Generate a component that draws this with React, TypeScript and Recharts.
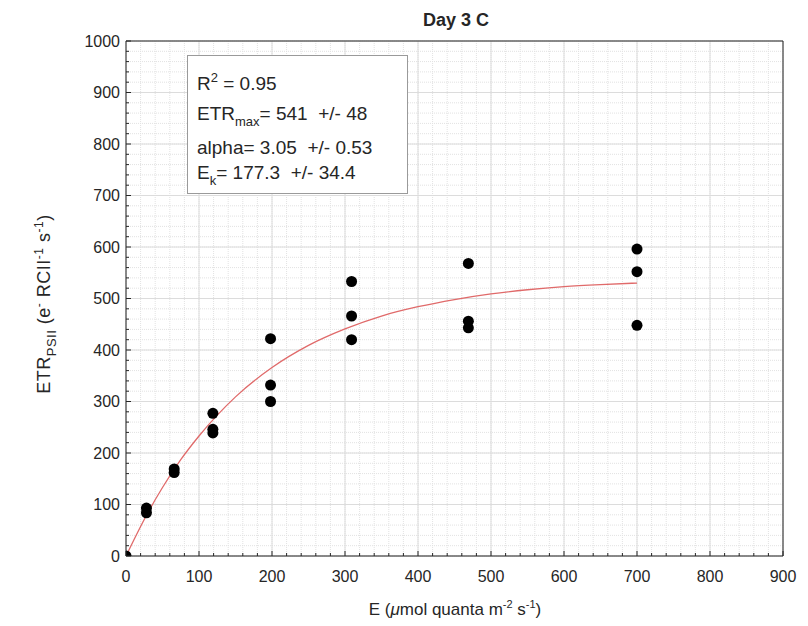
import { CartesianGrid, ComposedChart, Line, ReferenceLine, Scatter, XAxis, YAxis } from 'recharts';

// measured points: light level E and ETR
const lightE = [0, 28, 28, 66, 66, 119, 119, 119, 198, 198, 198, 309, 309, 309, 469, 469, 469, 700, 700, 700];
const etr = [0, 93, 84, 169, 162, 277, 246, 239, 422, 332, 300, 533, 466, 420, 568, 456, 443, 596, 552, 448];

// fitted curve
const fitE = [0, 25, 50, 75, 100, 150, 200, 250, 300, 350, 400, 450, 500, 550, 600, 650, 700];
const fitETR = [0, 71, 133, 187, 233, 309, 366, 409, 441, 466, 484, 498, 509, 517, 523, 527, 530];

const xTicks = [0, 100, 200, 300, 400, 500, 600, 700, 800, 900];
const yTicks = [0, 100, 200, 300, 400, 500, 600, 700, 800, 900, 1000];
const xMinor = Array.from({ length: 46 }, (_, i) => i * 20);
const yMinor = Array.from({ length: 51 }, (_, i) => i * 20);

const points = lightE.map((e, i) => ({ e, etr: etr[i] }));
const fit = fitE.map((e, i) => ({ e, fit: fitETR[i] }));

const axisColor = '#262626';
const font = '"Liberation Sans", Arial, sans-serif';
const X_MARGIN = 14;
const Y_MARGIN = 6;

const Dot = (p: any) => <circle cx={p.cx} cy={p.cy} r={5.5} fill="#000" />;

// MATLAB-style inward ticks, labels only on the major ones
const XTick = (p: any) => {
  const v = p.payload.value;
  const major = v % 100 === 0;
  const axisY = p.y - X_MARGIN;
  return (
    <g>
      <line x1={p.x} x2={p.x} y1={axisY} y2={axisY - (major ? 5 : 3)} stroke={axisColor} />
      {major && (
        <text x={p.x} y={p.y} dy="0.75em" textAnchor="middle" fontSize={16} fill={axisColor} fontFamily={font}>
          {v}
        </text>
      )}
    </g>
  );
};

const YTick = (p: any) => {
  const v = p.payload.value;
  const major = v % 100 === 0;
  const axisX = p.x + Y_MARGIN;
  return (
    <g>
      <line x1={axisX} x2={axisX + (major ? 5 : 3)} y1={p.y} y2={p.y} stroke={axisColor} />
      {major && (
        <text x={p.x} y={p.y} dy="0.36em" textAnchor="end" fontSize={16} fill={axisColor} fontFamily={font}>
          {v}
        </text>
      )}
    </g>
  );
};

export default function App() {
  return (
    <div style={{ position: 'relative', width: 792, height: 612, fontFamily: font, color: axisColor }}>
      <ComposedChart width={792} height={612} margin={{ top: 33, right: 17, left: 0, bottom: 0 }}>
        <CartesianGrid verticalValues={xMinor} horizontalValues={yMinor} stroke="#e2e2e2" strokeDasharray="1 1" />
        <CartesianGrid verticalValues={xTicks} horizontalValues={yTicks} stroke="#dcdcdc" />
        <XAxis
          type="number"
          dataKey="e"
          domain={[0, 900]}
          ticks={xMinor}
          interval={0}
          height={64}
          tickSize={0}
          tickMargin={X_MARGIN}
          tickLine={false}
          stroke={axisColor}
          tick={<XTick />}
          allowDataOverflow
        />
        <YAxis
          type="number"
          domain={[0, 1000]}
          ticks={yMinor}
          interval={0}
          width={118}
          tickSize={0}
          tickMargin={Y_MARGIN}
          tickLine={false}
          stroke={axisColor}
          tick={<YTick />}
          allowDataOverflow
        />
        <ReferenceLine x={900} stroke={axisColor} ifOverflow="visible" />
        <ReferenceLine y={1000} stroke={axisColor} ifOverflow="visible" />
        <Line
          data={fit}
          dataKey="fit"
          type="monotone"
          stroke="#e06a6a"
          strokeWidth={1.3}
          dot={false}
          isAnimationActive={false}
        />
        <Scatter data={points} dataKey="etr" shape={Dot} isAnimationActive={false} />
      </ComposedChart>

      <div
        style={{
          position: 'absolute',
          left: 448,
          top: 12,
          transform: 'translate(-50%, -50%)',
          fontSize: 18,
          fontWeight: 'bold',
          whiteSpace: 'nowrap',
        }}
      >
        Day 3 C
      </div>

      <div
        style={{
          position: 'absolute',
          left: 179,
          top: 47,
          width: 219,
          height: 137,
          border: '1.5px solid #9a9a9a',
          background: '#fff',
          fontSize: 19,
          lineHeight: 1,
          whiteSpace: 'nowrap',
        }}
      >
        <div style={{ position: 'absolute', left: 9, top: 15 }}>
          R<sup style={{ fontSize: 13, verticalAlign: 8 }}>2</sup> = 0.95
        </div>
        <div style={{ position: 'absolute', left: 9, top: 48 }}>
          ETR<sub style={{ fontSize: 13, verticalAlign: -6 }}>max</sub>= 541&nbsp; +/- 48
        </div>
        <div style={{ position: 'absolute', left: 9, top: 82 }}>alpha= 3.05&nbsp; +/- 0.53</div>
        <div style={{ position: 'absolute', left: 9, top: 107 }}>
          E<sub style={{ fontSize: 13, verticalAlign: -6 }}>k</sub>= 177.3&nbsp; +/- 34.4
        </div>
      </div>

      <div
        style={{
          position: 'absolute',
          left: 37,
          top: 296,
          transform: 'translate(-50%, -50%) rotate(-90deg)',
          fontSize: 18,
          letterSpacing: 0.5,
          whiteSpace: 'nowrap',
        }}
      >
        ETR<sub style={{ fontSize: 13, verticalAlign: -6 }}>PSII</sub> (e
        <sup style={{ fontSize: 12, verticalAlign: 7 }}>-</sup> RCII
        <sup style={{ fontSize: 12, verticalAlign: 7 }}>-1</sup> s
        <sup style={{ fontSize: 12, verticalAlign: 7 }}>-1</sup>)
      </div>

      <div
        style={{
          position: 'absolute',
          left: 447,
          top: 601,
          transform: 'translate(-50%, -50%)',
          fontSize: 17,
          whiteSpace: 'nowrap',
        }}
      >
        E (<i>μ</i>mol quanta m<sup style={{ fontSize: 11, verticalAlign: 7 }}>-2</sup> s
        <sup style={{ fontSize: 11, verticalAlign: 7 }}>-1</sup>)
      </div>
    </div>
  );
}
